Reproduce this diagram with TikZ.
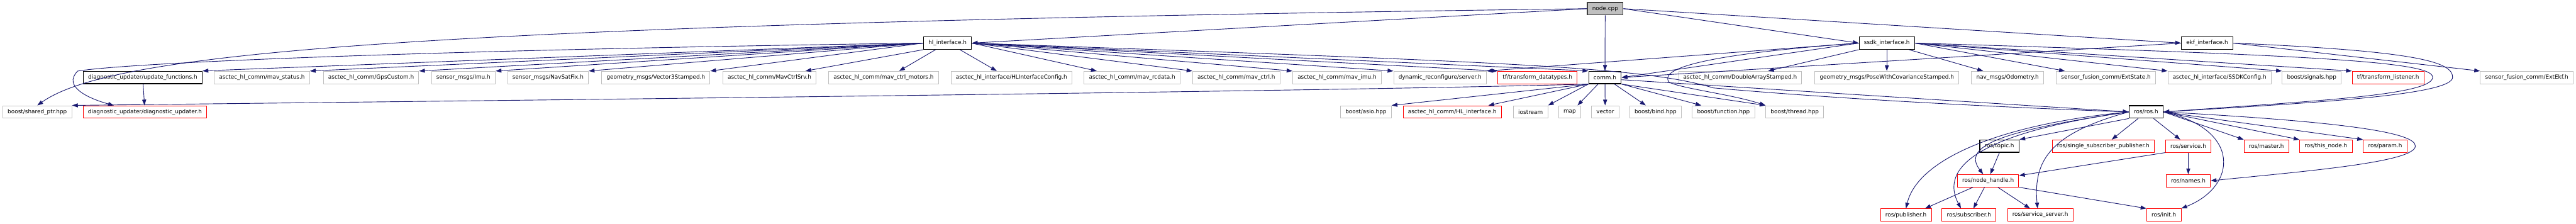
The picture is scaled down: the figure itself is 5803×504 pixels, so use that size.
\documentclass[tikz,border=0pt]{standalone}
\usepackage{fontspec}
\usepackage{tikz}
\usetikzlibrary{arrows.meta}
\newfontfamily\depfont{DejaVu Sans}
\definecolor{link}{HTML}{191970}
\definecolor{frame}{HTML}{BFBFBF}
\definecolor{trunc}{HTML}{FF0000}
\definecolor{rootfill}{HTML}{BFBFBF}
\definecolor{rootline}{HTML}{404040}

\begin{document}
\begin{tikzpicture}[x=1pt,y=-1pt,
  hdr/.style={draw=black,line width=1.8pt,minimum height=28pt,inner xsep=11pt,inner ysep=0pt,
    font=\depfont\fontsize{12.6}{15}\selectfont},
  sys/.style={hdr,draw=frame,line width=1.3pt},
  cut/.style={hdr,draw=trunc,line width=1.3pt},
  src/.style={hdr,fill=rootfill,draw=rootline},
  dep/.style={draw=link,line width=1.3pt,-{Triangle[length=13pt,width=9pt]}}]
  \useasboundingbox (0,0) rectangle (5803,504);
  % top
  \node[src] (nodecpp) at (3616,19.5) {node.cpp};
  \node[hdr] (hl) at (2134.5,97) {hl\_interface.h};
  \node[hdr] (ssdk) at (4250.5,97) {ssdk\_interface.h};
  \node[hdr] (ekf) at (4972,97) {ekf\_interface.h};
  % second row
  \node[hdr] (upd) at (321.5,174.5) {diagnostic\_updater/update\_functions.h};
  \node[sys] (mavstatus) at (590,174.5) {asctec\_hl\_comm/mav\_status.h};
  \node[sys] (gps) at (836,174.5) {asctec\_hl\_comm/GpsCustom.h};
  \node[sys] (imu) at (1044,174.5) {sensor\_msgs/Imu.h};
  \node[sys] (navsat) at (1234.5,174.5) {sensor\_msgs/NavSatFix.h};
  \node[sys] (vec3) at (1477.5,174.5) {geometry\_msgs/Vector3Stamped.h};
  \node[sys] (ctrlsrv) at (1733.5,174.5) {asctec\_hl\_comm/MavCtrlSrv.h};
  \node[sys] (motors) at (1990.5,174.5) {asctec\_hl\_comm/mav\_ctrl\_motors.h};
  \node[sys] (hlcfg) at (2278.5,174.5) {asctec\_hl\_interface/HLInterfaceConfig.h};
  \node[sys] (rcdata) at (2550.5,174.5) {asctec\_hl\_comm/mav\_rcdata.h};
  \node[sys] (mavctrl) at (2785,174.5) {asctec\_hl\_comm/mav\_ctrl.h};
  \node[sys] (mavimu) at (3012,174.5) {asctec\_hl\_comm/mav\_imu.h};
  \node[sys] (dynrec) at (3244,174.5) {dynamic\_reconfigure/server.h};
  \node[cut] (tfdt) at (3463.5,174.5) {tf/transform\_datatypes.h};
  \node[hdr] (comm) at (3615.5,174.5) {comm.h};
  \node[sys] (dblarr) at (3920,174.5) {asctec\_hl\_comm/DoubleArrayStamped.h};
  \node[sys] (posecov) at (4250.5,174.5) {geometry\_msgs/PoseWithCovarianceStamped.h};
  \node[sys] (odom) at (4522.5,174.5) {nav\_msgs/Odometry.h};
  \node[sys] (extstate) at (4744,174.5) {sensor\_fusion\_comm/ExtState.h};
  \node[sys] (ssdkcfg) at (5000,174.5) {asctec\_hl\_interface/SSDKConfig.h};
  \node[sys] (signals) at (5207.5,174.5) {boost/signals.hpp};
  \node[cut] (tflisten) at (5379.5,174.5) {tf/transform\_listener.h};
  \node[sys] (extekf) at (5692,174.5) {sensor\_fusion\_comm/ExtEkf.h};
  % third row
  \node[sys] (sharedptr) at (84,252) {boost/shared\_ptr.hpp};
  \node[cut] (diagup) at (326.5,252) {diagnostic\_updater/diagnostic\_updater.h};
  \node[sys] (asio) at (3077,252) {boost/asio.hpp};
  \node[cut] (hlif) at (3271.5,252) {asctec\_hl\_comm/HL\_interface.h};
  \node[sys] (iostream) at (3448,252) {iostream};
  \node[sys] (map) at (3536,252) {map};
  \node[sys] (vector) at (3616,252) {vector};
  \node[sys] (bind) at (3729.5,252) {boost/bind.hpp};
  \node[sys] (function) at (3882.5,252) {boost/function.hpp};
  \node[sys] (thread) at (4043,252) {boost/thread.hpp};
  \node[hdr] (ros) at (4834.5,252) {ros/ros.h};
  % ros headers
  \node[hdr] (topic) at (4504,329) {ros/topic.h};
  \node[cut] (ssp) at (4738,329) {ros/single\_subscriber\_publisher.h};
  \node[cut] (service) at (4929.5,329) {ros/service.h};
  \node[cut] (master) at (5105.5,329) {ros/master.h};
  \node[cut] (thisnode) at (5239.5,329) {ros/this\_node.h};
  \node[cut] (param) at (5373,329) {ros/param.h};
  \node[cut] (nh) at (4478.5,407) {ros/node\_handle.h};
  \node[cut] (names) at (4929.5,407) {ros/names.h};
  \node[cut] (pub) at (4293.5,484) {ros/publisher.h};
  \node[cut] (sub) at (4435.5,484) {ros/subscriber.h};
  \node[cut] (srvsrv) at (4596,484) {ros/service\_server.h};
  \node[cut] (init) at (4874.5,484) {ros/init.h};

  % node.cpp
  \draw[dep] (nodecpp.west) .. controls (900,55) and (250,120) .. (sharedptr.north);
  \draw[dep] (nodecpp.west) -- (hl.east);
  \draw[dep] (nodecpp) -- (comm);
  \draw[dep] (nodecpp.east) -- (ssdk.west);
  \draw[dep] (nodecpp.east) -- (ekf.west);
  % hl_interface.h
  \draw[dep] (hl.west) .. controls (1000,112) and (300,140) .. (175,160)
    .. controls (140,195) and (200,222) .. ([xshift=-70pt]diagup.north);
  \foreach \t in {upd,mavstatus,gps,imu,navsat,vec3}
    \draw[dep] (hl.west) -- (\t.north east);
  \draw[dep] (hl.south west) -- ([xshift=-25pt]ctrlsrv.north east);
  \draw[dep] ([xshift=-27pt]hl.south) -- ([xshift=35pt]motors.north);
  \draw[dep] ([xshift=28pt]hl.south) -- ([xshift=-33pt]hlcfg.north);
  \draw[dep] (hl.east) -- ([xshift=29pt]rcdata.north west);
  \foreach \t in {mavctrl,mavimu,dynrec,tfdt,comm}
    \draw[dep] (hl.east) -- (\t.north west);
  \draw[dep] (hl.east) .. controls (3400,140) and (3700,150) .. (3860,198)
    .. controls (4200,228) and (4600,245) .. (ros.west);
  \draw[dep] (upd) -- (diagup);
  % ssdk_interface.h
  \draw[dep] (ssdk.west) -- (comm.east);
  \draw[dep] (ssdk.west) -- (dynrec.north east);
  \draw[dep] (ssdk.south west) -- ([xshift=63pt]dblarr.north);
  \draw[dep] (ssdk) -- (posecov);
  \draw[dep] ([xshift=50pt]ssdk.south) -- ([xshift=-55pt]odom.north);
  \draw[dep] (ssdk.east) -- ([xshift=20pt]extstate.north west);
  \foreach \t in {ssdkcfg,signals,tflisten}
    \draw[dep] (ssdk.east) -- (\t.north west);
  \draw[dep] (ssdk.west) .. controls (3800,125) and (3740,160) .. (3760,185)
    .. controls (3790,200) and (3900,212) .. (thread.north west);
  \draw[dep] (ssdk.east) .. controls (5250,125) and (5480,140) .. (5480,174)
    .. controls (5480,215) and (5200,228) .. (ros.east);
  % ekf_interface.h
  \draw[dep] (ekf.west) -- (comm.east);
  \draw[dep] (ekf.east) -- (extekf.north west);
  \draw[dep] (ekf.east) .. controls (5450,115) and (5525,140) .. (5525,174)
    .. controls (5525,215) and (5200,232) .. (ros.east);
  % comm.h
  \draw[dep] (comm.south west) .. controls (3000,205) and (1500,222) .. (sharedptr.north east);
  \draw[dep] (comm.south west) -- (asio.north east);
  \draw[dep] (comm.south west) -- ([xshift=-30pt]hlif.north east);
  \draw[dep] (comm.south west) -- (iostream.north east);
  \draw[dep] ([xshift=22pt]comm.south west) -- ([xshift=-8pt]map.north east);
  \draw[dep] (comm) -- (vector);
  \draw[dep] ([xshift=-16pt]comm.south east) -- ([xshift=-22pt]bind.north);
  \draw[dep] (comm.south east) -- ([xshift=21pt]function.north west);
  \draw[dep] (comm.south east) -- (thread.north west);
  \draw[dep] ([yshift=-5pt]comm.east) -- (ros.west);
  % ros/ros.h
  \draw[dep] (ros.west) .. controls (4500,280) and (4320,360) .. (pub.north);
  \draw[dep] (ros.west) .. controls (4450,300) and (4370,380) .. ([xshift=-18pt]sub.north);
  \draw[dep] (ros.west) .. controls (4500,295) and (4420,330) .. ([xshift=-11pt]nh.north);
  \draw[dep] (ros.south west) -- (topic.north east);
  \draw[dep] (ros.west) .. controls (4620,300) and (4580,360) .. ([xshift=-6pt]srvsrv.north);
  \draw[dep] ([xshift=-18pt]ros.south) -- ([xshift=19pt]ssp.north);
  \draw[dep] ([xshift=17pt]ros.south) -- ([xshift=-18pt]service.north);
  \foreach \t in {master,thisnode,param}
    \draw[dep] (ros.east) -- (\t.north west);
  \draw[dep] (ros.east) .. controls (5300,275) and (5442,300) .. (5441,329)
    .. controls (5440,365) and (5200,385) .. (names.east);
  \draw[dep] (ros.east) .. controls (5050,290) and (5040,420) .. (init.north east);
  % ros headers
  \draw[dep] (topic.south) -- ([xshift=5pt]nh.north);
  \draw[dep] (service.south west) -- ([yshift=-3pt]nh.north east);
  \draw[dep] (service) -- (names);
  \draw[dep] ([xshift=-34pt]nh.south) -- ([xshift=-15pt]pub.north east);
  \draw[dep] ([xshift=-8pt]nh.south) -- ([xshift=10pt]sub.north);
  \draw[dep] ([xshift=22pt]nh.south) -- ([xshift=-23pt]srvsrv.north);
  \draw[dep] (nh.south east) -- (init.north west);
\end{tikzpicture}
\end{document}
